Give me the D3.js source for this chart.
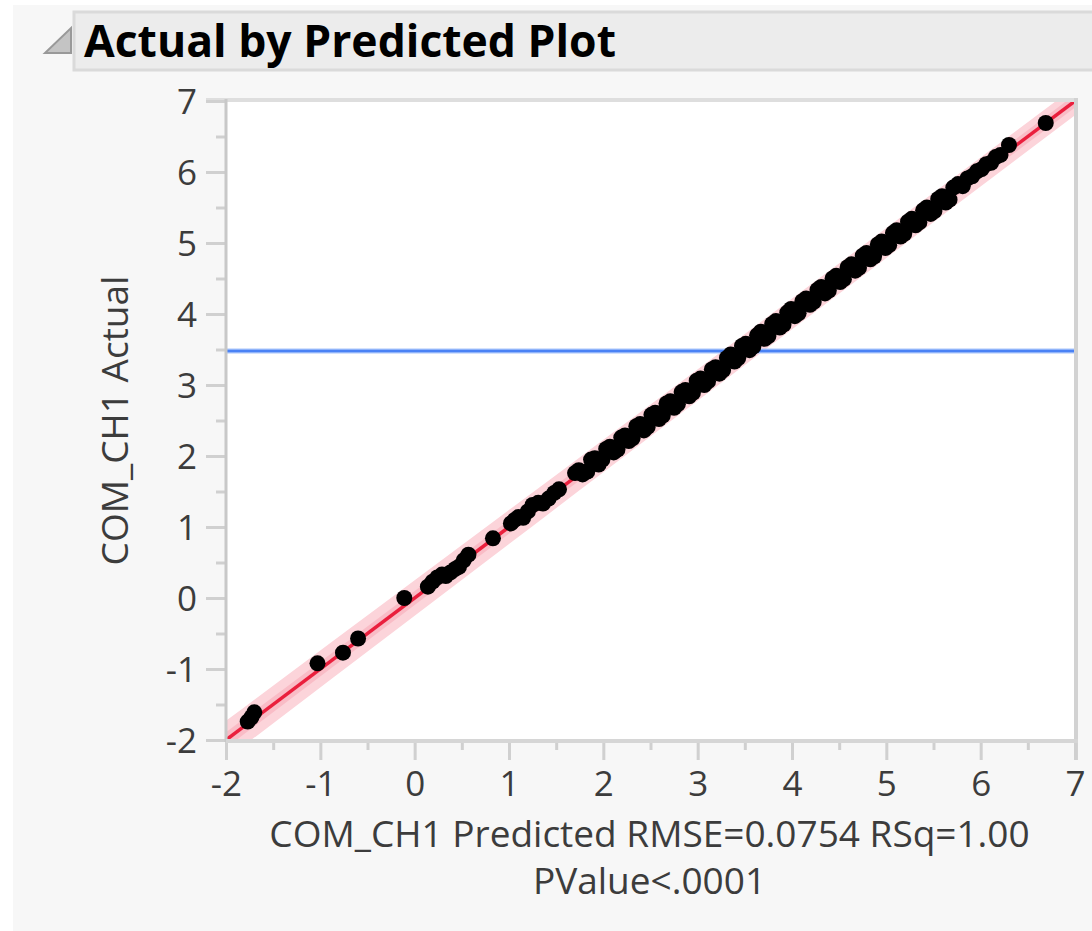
<!DOCTYPE html>
<html>
<head>
<meta charset="utf-8">
<script src="https://cdn.jsdelivr.net/npm/d3@7"></script>
<style>
  body { margin: 0; background: #ffffff; }
  text { font-family: "Open Sans", "Noto Sans", sans-serif; }
</style>
</head>
<body>
<div id="chart"></div>
<script>
const title = "Actual by Predicted Plot";
const yLabel = "COM_CH1 Actual";
const xLabelLines = ["COM_CH1 Predicted RMSE=0.0754 RSq=1.00", "PValue<.0001"];

const tickValues = [-2, -1, 0, 1, 2, 3, 4, 5, 6, 7];
const minorTicks = [-1.5, -0.5, 0.5, 1.5, 2.5, 3.5, 4.5, 5.5, 6.5];

// fit line and mean of actual
const fitX = [-2, 7];
const fitY = [-2, 7];
const meanActual = 3.48;

// confidence shading (half widths, in y units)
const bandX = [-2, 0, 2, 3.5, 5, 7];
const bandOuter = [0.27, 0.25, 0.23, 0.22, 0.21, 0.2];
const bandInner = [0.11, 0.1, 0.09, 0.09, 0.09, 0.09];

// points
const predicted = [
  -1.77, -1.73, -1.70, -1.03, -0.76, -0.60, -0.11, 0.14, 0.19, 0.24, 0.29, 0.33, 0.38, 0.43,
  0.47, 0.52, 0.57, 0.83, 1.02, 1.06, 1.10, 1.15, 1.20, 1.25, 1.31, 1.36, 1.42, 1.48, 1.53,
  1.70, 1.74, 1.78, 1.83, 1.87, 1.91, 1.95, 1.99, 2.03, 2.07, 2.11, 2.15, 2.19, 2.23, 2.27,
  2.31, 2.35, 2.39, 2.43, 2.47, 2.51, 2.55, 2.59, 2.63, 2.67, 2.71, 2.75, 2.79, 2.83, 2.87,
  2.91, 2.95, 2.99, 3.03, 3.07, 3.11, 3.15, 3.19, 3.23, 3.27, 3.31, 3.35, 3.39, 3.43, 3.47,
  3.51, 3.55, 3.59, 3.63, 3.67, 3.71, 3.75, 3.79, 3.83, 3.87, 3.91, 3.95, 3.99, 4.03, 4.07,
  4.11, 4.15, 4.19, 4.23, 4.27, 4.31, 4.35, 4.39, 4.43, 4.47, 4.51, 4.55, 4.59, 4.63, 4.67,
  4.71, 4.75, 4.79, 4.83, 4.87, 4.91, 4.95, 4.99, 5.03, 5.07, 5.11, 5.15, 5.19, 5.23, 5.27,
  5.31, 5.35, 5.39, 5.43, 5.47, 5.51, 5.55, 5.59, 5.63, 5.67, 5.71, 5.76, 5.81, 5.86, 5.91,
  5.96, 6.01, 6.06, 6.11, 6.16, 6.21, 6.30, 6.69
];
const actual = [
  -1.74, -1.68, -1.61, -0.92, -0.77, -0.57, 0.00, 0.16, 0.23, 0.29, 0.33, 0.31, 0.36, 0.41,
  0.44, 0.53, 0.61, 0.84, 1.05, 1.10, 1.14, 1.13, 1.22, 1.31, 1.34, 1.33, 1.40, 1.48, 1.53,
  1.76, 1.80, 1.74, 1.78, 1.95, 1.97, 1.88, 1.95, 2.10, 2.13, 2.05, 2.09, 2.26, 2.29, 2.21,
  2.25, 2.42, 2.45, 2.36, 2.41, 2.58, 2.61, 2.52, 2.57, 2.74, 2.77, 2.68, 2.73, 2.90, 2.93,
  2.84, 2.89, 3.06, 3.09, 3.00, 3.05, 3.22, 3.25, 3.16, 3.21, 3.38, 3.43, 3.33, 3.38, 3.55,
  3.58, 3.49, 3.54, 3.70, 3.75, 3.65, 3.69, 3.86, 3.90, 3.81, 3.85, 4.02, 4.07, 3.97, 4.01,
  4.18, 4.22, 4.13, 4.17, 4.34, 4.38, 4.29, 4.33, 4.50, 4.54, 4.45, 4.49, 4.66, 4.70, 4.61,
  4.65, 4.82, 4.86, 4.77, 4.81, 4.98, 5.02, 4.93, 4.97, 5.14, 5.18, 5.09, 5.13, 5.30, 5.34,
  5.25, 5.29, 5.46, 5.50, 5.41, 5.45, 5.62, 5.66, 5.57, 5.61, 5.78, 5.83, 5.80, 5.91, 5.94,
  6.01, 6.04, 6.11, 6.13, 6.21, 6.24, 6.38, 6.69
];

const W = 1092, H = 931;
const plot = {left: 226, right: 1075, top: 101, bottom: 740};

const svg = d3.select("#chart").append("svg")
    .attr("width", W)
    .attr("height", H);

// page background
svg.append("rect").attr("width", W).attr("height", H).attr("fill", "#ffffff");
svg.append("rect").attr("x", 13).attr("y", 5).attr("width", W).attr("height", H)
    .attr("fill", "#f7f7f7");

// title bar
svg.append("rect")
    .attr("x", 74).attr("y", 12).attr("width", W).attr("height", 58)
    .attr("fill", "#ececec").attr("stroke", "#dadada").attr("stroke-width", 3);
svg.append("path")
    .attr("d", "M71,28 L71,53 L45,53 Z")
    .attr("fill", "#c4c4c4").attr("stroke", "#999").attr("stroke-width", 2);
svg.append("text")
    .attr("x", 84).attr("y", 57)
    .attr("font-size", 44.5).attr("font-weight", "bold").attr("fill", "#000")
    .text(title);

const x = d3.scaleLinear().domain([-2, 7]).range([plot.left, plot.right]);
const y = d3.scaleLinear().domain([-2, 7]).range([plot.bottom, plot.top]);

// plot background
svg.append("rect")
    .attr("x", plot.left).attr("y", plot.top)
    .attr("width", plot.right - plot.left).attr("height", plot.bottom - plot.top)
    .attr("fill", "#fff");

svg.append("clipPath").attr("id", "clip")
    .append("rect")
    .attr("x", plot.left).attr("y", plot.top)
    .attr("width", plot.right - plot.left).attr("height", plot.bottom - plot.top);

const g = svg.append("g").attr("clip-path", "url(#clip)");

const outerData = bandX.map((v, i) => ({x: v, h: bandOuter[i]}));
const innerData = bandX.map((v, i) => ({x: v, h: bandInner[i]}));
const band = d3.area()
    .x(d => x(d.x))
    .y0(d => y(d.x - d.h))
    .y1(d => y(d.x + d.h))
    .curve(d3.curveMonotoneX);

g.append("path").datum(outerData).attr("d", band).attr("fill", "#fcd4da");
g.append("path").datum(innerData).attr("d", band).attr("fill", "#f9bcc6");

g.append("line")
    .attr("x1", x(fitX[0])).attr("y1", y(fitY[0]))
    .attr("x2", x(fitX[1])).attr("y2", y(fitY[1]))
    .attr("stroke", "#ea1f3d").attr("stroke-width", 3.5);

g.append("line")
    .attr("x1", plot.left).attr("x2", plot.right)
    .attr("y1", y(meanActual)).attr("y2", y(meanActual))
    .attr("stroke", "#a9c5fb").attr("stroke-width", 5);
g.append("line")
    .attr("x1", plot.left).attr("x2", plot.right)
    .attr("y1", y(meanActual)).attr("y2", y(meanActual))
    .attr("stroke", "#4a82f5").attr("stroke-width", 2.5);

g.selectAll("circle")
    .data(predicted.map((p, i) => ({p: p, a: actual[i]})))
    .enter().append("circle")
    .attr("cx", d => x(d.p))
    .attr("cy", d => y(d.a))
    .attr("r", 8)
    .attr("fill", "#000");

// frame
const tickColor = "#d0d0d0";
svg.append("line").attr("x1", plot.left - 20).attr("x2", plot.right)
    .attr("y1", plot.top - 1).attr("y2", plot.top - 1)
    .attr("stroke", "#dedede").attr("stroke-width", 4);
svg.append("line").attr("x1", plot.right + 1).attr("x2", plot.right + 1)
    .attr("y1", plot.top - 3).attr("y2", plot.bottom + 20)
    .attr("stroke", "#d2d2d2").attr("stroke-width", 4);

const fmt = d => String(d);

// y axis
const yMajor = svg.append("g").attr("transform", `translate(${plot.left},0)`)
    .call(d3.axisLeft(y).tickValues(tickValues).tickSize(20).tickPadding(9).tickFormat(fmt));
const yMinor = svg.append("g").attr("transform", `translate(${plot.left},0)`)
    .call(d3.axisLeft(y).tickValues(minorTicks).tickSize(10).tickFormat(""));

// x axis
const xMajor = svg.append("g").attr("transform", `translate(0,${plot.bottom})`)
    .call(d3.axisBottom(x).tickValues(tickValues).tickSize(20).tickFormat(fmt));
const xMinor = svg.append("g").attr("transform", `translate(0,${plot.bottom})`)
    .call(d3.axisBottom(x).tickValues(minorTicks).tickSize(10).tickFormat(""));

[yMajor, yMinor, xMajor, xMinor].forEach(ax => {
    ax.select(".domain").remove();
    ax.selectAll("line").attr("stroke", tickColor).attr("stroke-width", 3);
    ax.selectAll("text")
        .attr("font-size", 35)
        .attr("fill", "#3c3c3c")
        .style("font-family", "'Open Sans', 'Noto Sans', sans-serif");
});
yMajor.selectAll("text").attr("dy", "0.36em");
xMajor.selectAll("text").attr("y", 56).attr("dy", 0);

svg.append("line").attr("x1", plot.left).attr("x2", plot.left)
    .attr("y1", plot.top - 2).attr("y2", plot.bottom + 2)
    .attr("stroke", "#c8c8c8").attr("stroke-width", 3);
svg.append("line").attr("x1", plot.left).attr("x2", plot.right + 3)
    .attr("y1", plot.bottom + 1).attr("y2", plot.bottom + 1)
    .attr("stroke", "#d6d6d6").attr("stroke-width", 4);

// axis titles
svg.append("text")
    .attr("transform", `translate(128,${(plot.top + plot.bottom) / 2}) rotate(-90)`)
    .attr("text-anchor", "middle")
    .attr("font-size", 37).attr("fill", "#3c3c3c")
    .text(yLabel);

svg.append("text")
    .attr("x", (plot.left + plot.right) / 2 - 1).attr("y", 847)
    .attr("text-anchor", "middle")
    .attr("font-size", 37).attr("fill", "#3c3c3c")
    .text(xLabelLines[0]);
svg.append("text")
    .attr("x", (plot.left + plot.right) / 2 - 1).attr("y", 894)
    .attr("text-anchor", "middle")
    .attr("font-size", 37).attr("fill", "#3c3c3c")
    .text(xLabelLines[1]);
</script>
</body>
</html>
